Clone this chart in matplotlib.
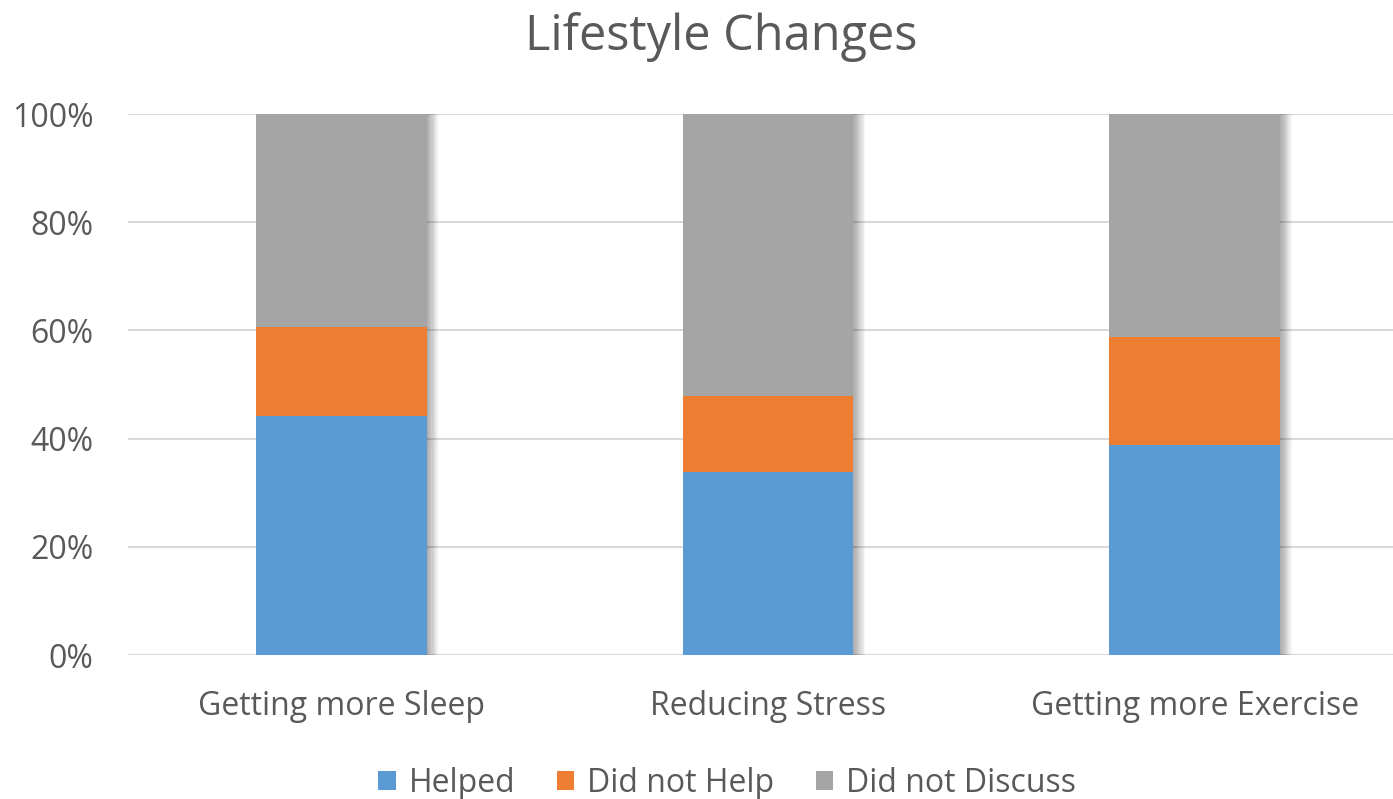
import matplotlib.pyplot as plt
import numpy as np

categories = ['Getting more Sleep', 'Reducing Stress', 'Getting more Exercise']
helped = [44.2, 33.8, 38.8]
did_not_help = [16.4, 14.1, 20.0]
did_not_discuss = [39.4, 52.1, 41.2]

series = [('Helped', helped, '#5B9BD5'),
          ('Did not Help', did_not_help, '#ED7D31'),
          ('Did not Discuss', did_not_discuss, '#A5A5A5')]

plt.rcParams['font.family'] = ['Open Sans', 'DejaVu Sans']
text_color = '#595959'

fig = plt.figure(figsize=(13.93, 7.99), dpi=100)
ax = fig.add_axes([128 / 1393, 1 - 655 / 799, 1 - 128 / 1393, 541 / 799])

x = np.arange(len(categories))
width = 0.4

# soft shadow to the right of each bar, built from layered translucent bars
totals = np.array(helped) + np.array(did_not_help) + np.array(did_not_discuss)
for i in range(10):
    off = (i + 1) * 0.0028
    ax.bar(x + off, totals, width, color='black', alpha=0.035, linewidth=0, zorder=2)

bottom = np.zeros(len(categories))
for name, vals, color in series:
    ax.bar(x, vals, width, bottom=bottom, color=color, label=name,
           linewidth=0, zorder=3)
    bottom += np.array(vals)

ax.set_ylim(0, 100)
ax.set_xlim(-0.5, 2.465)
ax.set_yticks(range(0, 101, 20))
ax.set_yticklabels([f'{v}%' for v in range(0, 101, 20)])
ax.set_xticks(x)
ax.set_xticklabels(categories)
ax.yaxis.grid(True, color='#D9D9D9', linewidth=1.5, zorder=0)
ax.set_axisbelow(True)
for s in ax.spines.values():
    s.set_visible(False)
ax.tick_params(length=0, colors=text_color, labelsize=23)
ax.tick_params(axis='y', pad=25)
ax.tick_params(axis='x', pad=25)

fig.text(0.518, 1 - 37 / 799, 'Lifestyle Changes', ha='center', va='center',
         fontsize=35, color=text_color)

leg = fig.legend(loc='center', bbox_to_anchor=(0.522, 1 - 783 / 799), ncol=3,
                 frameon=False, fontsize=23, handlelength=0.55, handleheight=0.55,
                 columnspacing=1.3, handletextpad=0.4)
for t in leg.get_texts():
    t.set_color(text_color)

fig.savefig('out.png', dpi=100)
